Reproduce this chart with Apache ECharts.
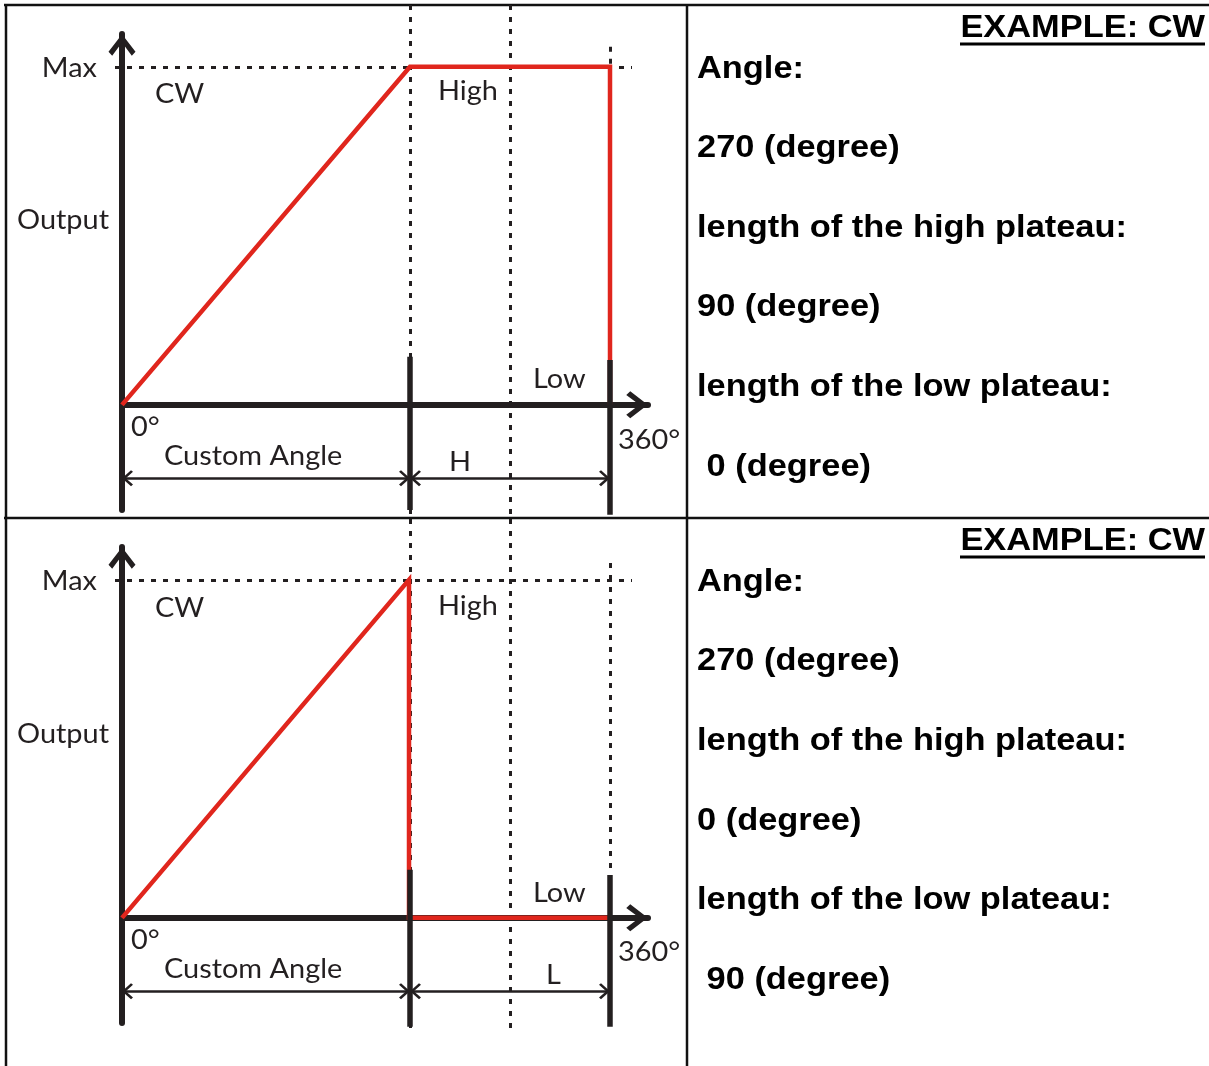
<!DOCTYPE html>
<html>
<head>
<meta charset="utf-8">
<script src="https://cdn.jsdelivr.net/npm/echarts@6/dist/echarts.min.js"></script>
<style>
  html, body { margin: 0; padding: 0; background: #ffffff; }
  #chart { width: 1209px; height: 1066px; }
</style>
</head>
<body>
<div id="chart"></div>
<script>
// ---------- DATA (schematic diagram units: x 0 = 0°, 4.88 = 360°; y 0 = Low/axis, 1 = Max) ----------
const xPositions = [0, 2.88, 3.88, 4.88];            // 0°, end of custom angle, midpoint, 360°
const xLabels = ['0°', 'Custom Angle', 'midpoint', '360°'];
const outputLevels = [0, 1];                         // axis level, Max

const topProfileX = [0, 2.88, 4.88, 4.88];
const topProfileY = [0, 1, 1, 0];
const bottomProfileX = [0, 2.87, 2.87, 4.88];
const bottomProfileY = [0, 1, 0, 0];

const topDotted = [
  [[2.88, 1.183], [2.88, -0.337]],
  [[3.88, 1.183], [3.88, -0.337]],
  [[4.88, 1.059], [4.88, 1]],
  [[-0.07, 1], [5.10, 1]]
];
const bottomDotted = [
  [[2.88, 1.18], [2.88, -0.331]],
  [[3.88, 1.18], [3.88, -0.331]],
  [[4.88, 1.05], [4.88, 0.142]],
  [[-0.07, 1], [5.10, 1]]
];
const topThick = [
  [[2.88, 0.142], [2.88, -0.311]],
  [[4.88, 0.133], [4.88, -0.325]]
];
const bottomThick = [
  [[2.88, 0.142], [2.88, -0.322]],
  [[4.88, 0.127], [4.88, -0.322]]
];
const topSpans = [[0, 2.88], [2.88, 4.88]];
const bottomSpans = [[0, 2.88], [2.88, 4.88]];
const spanLevel = -0.217;

const topPanelTexts = ['Angle:', '270 (degree)', 'length of the high plateau:', '90 (degree)', 'length of the low plateau:', ' 0 (degree)'];
const bottomPanelTexts = ['Angle:', '270 (degree)', 'length of the high plateau:', '0 (degree)', 'length of the low plateau:', ' 90 (degree)'];
const exampleTitle = 'EXAMPLE: CW';

// ---------- STYLE / LAYOUT ----------
const INK = '#231f20';
const RED = '#e0261d';
const bigArrow = 'path://M0,-22 M0,0 L13.5,17.5 L9.8,21.5 L0,8.3 L-9.8,21.5 L-13.5,17.5 Z';
const smallArrow = 'path://M0,-11 M0,0 L8,9 L6.4,11 L0,3.8 L-6.4,11 L-8,9 Z';

const chart = echarts.init(document.getElementById('chart'), null, { renderer: 'canvas' });

function xAxisCfg(i) {
  return {
    gridIndex: i, type: 'value', min: 0, max: 5.26,
    axisLine: { show: true, onZero: true, lineStyle: { color: INK, width: 6 },
      symbol: ['none', bigArrow], symbolSize: [27, 44] },
    axisTick: { show: false }, axisLabel: { show: false }, splitLine: { show: false }
  };
}
function yAxisCfg(i) {
  return {
    gridIndex: i, type: 'value', min: -0.311, max: 1.097,
    axisLine: { show: true, onZero: true, lineStyle: { color: INK, width: 6 },
      symbol: ['none', bigArrow], symbolSize: [27, 44] },
    axisTick: { show: false }, axisLabel: { show: false }, splitLine: { show: false }
  };
}
function linesSeries(i, segs, style, z) {
  return {
    type: 'lines', coordinateSystem: 'cartesian2d', xAxisIndex: i, yAxisIndex: i,
    clip: false, silent: true, z: z, lineStyle: style,
    data: segs.map(s => ({ coords: s }))
  };
}
function profileSeries(i, xs, ys, spans) {
  return {
    type: 'line', xAxisIndex: i, yAxisIndex: i, clip: false, silent: true, z: 4,
    showSymbol: false, symbol: 'none',
    lineStyle: { color: RED, width: 4.5, join: 'miter' },
    data: xs.map((x, k) => [x, ys[k]]),
    markLine: {
      silent: true, symbol: [smallArrow, smallArrow], symbolSize: [16, 22],
      lineStyle: { color: INK, width: 2.6, type: 'solid' },
      label: { show: false }, emphasis: { disabled: true },
      data: spans.map(s => [{ coord: [s[0], spanLevel] }, { coord: [s[1], spanLevel] }])
    }
  };
}

const dotStyle = { color: INK, width: 3, type: [5, 7], opacity: 1 };
const thickStyle = { color: INK, width: 5.5, type: 'solid', opacity: 1 };

// ---------- annotations ----------
const LFONT = 'Lato, "Open Sans", sans-serif';
function lbl(text, x, y, align) {
  return { type: 'text', x: x, y: y, z: 10, silent: true, scaleX: 1.07,
    style: { text: text, fill: INK, font: '27px ' + LFONT, align: align || 'left', verticalAlign: 'middle' } };
}
const panelLabelSets = [
  { hl: 'H', hx: 449, hy: 462, maxY: 68, cwY: 94, outY: 220, highY: 91, lowY: 379, zeroY: 427, caY: 456, fullY: 440 },
  { hl: 'L', hx: 546, hy: 975, maxY: 581, cwY: 608, outY: 734, highY: 606, lowY: 893, zeroY: 940, caY: 969, fullY: 952 }
];
const graphics = [];
// table borders
const border = (x1, y1, x2, y2) => ({ type: 'line', z: 1, silent: true,
  shape: { x1, y1, x2, y2 }, style: { stroke: '#111111', lineWidth: 2.5 } });
graphics.push(border(4, 5, 1209, 5), border(6, 5, 6, 1066), border(687, 5, 687, 1066), border(4, 518, 1209, 518));

panelLabelSets.forEach(p => {
  graphics.push(lbl('Max', 97, p.maxY, 'right'));
  graphics.push(lbl('CW', 155, p.cwY));
  graphics.push(lbl('Output', 17, p.outY));
  graphics.push(lbl('High', 438, p.highY));
  graphics.push(lbl('Low', 533, p.lowY));
  graphics.push(lbl(xLabels[0], 131, p.zeroY));
  graphics.push(lbl(xLabels[1], 164, p.caY));
  graphics.push(lbl(p.hl, p.hx, p.hy));
  graphics.push(lbl(xLabels[3], 618, p.fullY));
});

const RFONT = 'bold 32px "Liberation Sans", Arial, sans-serif';
function rtext(text, x, y, align) {
  return { type: 'text', x: x, y: y, z: 10, silent: true, scaleX: 1.075,
    style: { text: text, fill: '#000000', font: RFONT, align: align || 'left', verticalAlign: 'middle' } };
}
const topRows = [69, 148, 228, 307, 387, 467];
const bottomRows = [582, 661, 741, 821, 900, 980];
[[topPanelTexts, topRows, 28, 44], [bottomPanelTexts, bottomRows, 541, 557]].forEach(([texts, rows, ty, uy]) => {
  graphics.push(rtext(exampleTitle, 1205, ty, 'right'));
  graphics.push({ type: 'line', z: 10, silent: true, shape: { x1: 960, y1: uy, x2: 1205, y2: uy },
    style: { stroke: '#000000', lineWidth: 3 } });
  texts.forEach((t, k) => graphics.push(rtext(t, 697, rows[k])));
});

const option = {
  animation: false,
  backgroundColor: '#ffffff',
  grid: [
    { left: 122, top: 34, width: 526, height: 476 },
    { left: 122, top: 547, width: 526, height: 476 }
  ],
  xAxis: [xAxisCfg(0), xAxisCfg(1)],
  yAxis: [yAxisCfg(0), yAxisCfg(1)],
  series: [
    linesSeries(0, topDotted, dotStyle, 1),
    linesSeries(1, bottomDotted, dotStyle, 1),
    profileSeries(0, topProfileX, topProfileY, topSpans),
    profileSeries(1, bottomProfileX, bottomProfileY, bottomSpans),
    linesSeries(0, topThick, thickStyle, 5),
    linesSeries(1, bottomThick, thickStyle, 5)
  ],
  graphic: graphics
};
chart.setOption(option);
</script>
</body>
</html>
